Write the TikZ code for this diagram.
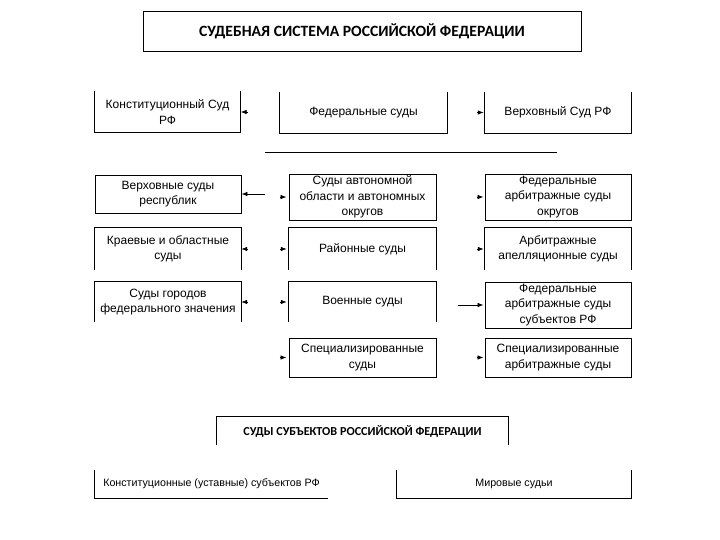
\documentclass[tikz,border=0pt]{standalone}
\usepackage{fontspec}
\setmainfont{Liberation Sans}
\newfontfamily\headfont{Carlito}
\usetikzlibrary{arrows.meta,positioning}
\tikzset{
    every node/.style={font=\fontsize{12}{15.5}\selectfont},
    court/.style={rectangle,align=center,inner sep=1pt,minimum width=146pt,minimum height=40pt},
    closed/.style={draw,line width=0.9pt},
    frame/.style={line width=0.9pt},
    title/.style={court,closed,minimum width=438pt,font=\headfont\bfseries\fontsize{15.7}{18}\selectfont},
    feed/.style={-{Latex[length=6pt,width=4.5pt]},line width=0.7pt}
}
\begin{document}
\begin{tikzpicture}[x=1pt,y=-1pt]
\useasboundingbox (0,0) rectangle (720,540);
\node[title] (top) at (362,31) {СУДЕБНАЯ СИСТЕМА РОССИЙСКОЙ ФЕДЕРАЦИИ};
% federal courts
\node[court,minimum height=41pt] (ks) at (167.5,112) {Конституционный Суд\\РФ};
\node[court,minimum width=167pt,minimum height=41pt] (fs) at (363.5,112.5) {Федеральные суды};
\node[court,minimum height=41pt] (vs) at (558,112.5) {Верховный Суд РФ};
\coordinate (l1) at (265,152);
\coordinate (l2) at (557,152);
\draw[frame] (l1) -- (l2);
% left column
\node[court,closed,minimum height=38pt] (vr) at (168,194) {Верховные суды\\республик};
\node[court,minimum height=42pt] (kr) at (168,249) {Краевые и областные\\суды};
\node[court] (sg) at (168,302) {Суды городов\\федерального значения};
% middle column
\node[court,closed,minimum width=147pt,minimum height=46pt] (ao) at (362.5,197) {Суды автономной\\области и автономных\\округов};
\node[court,minimum width=147pt,minimum height=42pt] (rs) at (362.5,249) {Районные суды};
\node[court,minimum width=147pt] (vn) at (362.5,302) {Военные суды};
\node[court,closed,minimum width=147pt,minimum height=39pt] (ss) at (362.5,357.5) {Специализированные\\суды};
% right column
\node[court,closed,minimum height=46pt] (fo) at (558,197) {Федеральные\\арбитражные суды\\округов};
\node[court,minimum height=42pt] (aa) at (558,249) {Арбитражные\\апелляционные суды};
\node[court,closed,minimum height=46pt] (sub) at (558,305) {Федеральные\\арбитражные суды\\субъектов РФ};
\node[court,closed,minimum height=39pt] (sa) at (558,357.5) {Специализированные\\арбитражные суды};
% subjects
\node[title,minimum width=291pt,minimum height=28pt,draw=none,font=\headfont\bfseries\fontsize{12.2}{14}\selectfont] (subj) at (362.5,431) {СУДЫ СУБЪЕКТОВ РОССИЙСКОЙ ФЕДЕРАЦИИ};
\node[court,minimum width=233pt,minimum height=28pt,font=\fontsize{10.7}{13}\selectfont] (kon) at (211.5,484) {Конституционные (уставные) субъектов РФ};
\node[court,minimum width=234pt,minimum height=28pt,font=\fontsize{10.7}{13}\selectfont] (mir) at (514,484) {Мировые судьи};
% open frames
\foreach \n in {ks,fs,vs,mir}
    \draw[frame] (\n.north west) |- (\n.south east) -- (\n.north east);
\foreach \n in {kr,sg,rs,vn,aa,subj}
    \draw[frame] (\n.south west) |- (\n.north east) -- (\n.south east);
\draw[frame] (kon.north west) |- (kon.south east);
% arrows
\foreach \n in {ks,kr,sg}{
    \coordinate (\n-in) at ([xshift=7pt]\n.east);
    \draw[feed] (\n-in) -- (\n.east);
}
\foreach \n in {ao,rs,vn,ss}{
    \coordinate (\n-in) at ([xshift=-9pt]\n.west);
    \draw[feed,shorten >=2pt] (\n-in) -- (\n.west);
}
\foreach \n in {vs,fo,aa,sa}{
    \coordinate (\n-in) at ([xshift=-8pt]\n.west);
    \draw[feed,shorten >=1pt] (\n-in) -- (\n.west);
}
\coordinate (vr-in) at ([xshift=24pt]vr.east);
\draw[feed] (vr-in) -- (vr.east);
\coordinate (sub-in) at ([xshift=-27pt]sub.west);
\draw[feed,shorten >=1pt] (sub-in) -- (sub.west);
\end{tikzpicture}
\end{document}
